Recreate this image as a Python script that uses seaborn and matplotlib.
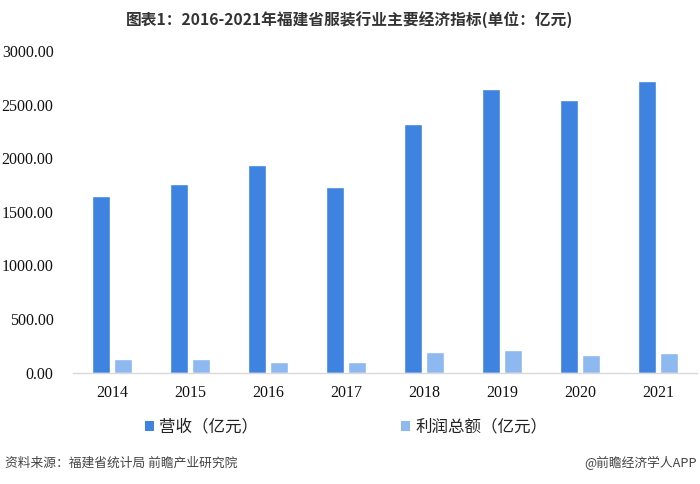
import matplotlib
matplotlib.use("Agg")
import matplotlib.pyplot as plt
import seaborn as sns
import pandas as pd
import numpy as np
from matplotlib.patches import Patch
from matplotlib.ticker import FixedLocator

years = ["2014", "2015", "2016", "2017", "2018", "2019", "2020", "2021"]
revenue = [1651, 1760, 1937, 1732, 2319, 2649, 2543, 2720]
profit = [125, 125, 100, 100, 190, 209, 162, 181]
series_names = ["营收（亿元）", "利润总额（亿元）"]
yticks = [0, 500, 1000, 1500, 2000, 2500, 3000]

title = "图表1：2016-2021年福建省服装行业主要经济指标(单位：亿元)"
source = "资料来源：福建省统计局 前瞻产业研究院"
credit = "@前瞻经济学人APP"

colors = ["#3F83E0", "#8DB8F0"]

sns.set_theme(style="white")
plt.rcParams["font.family"] = ["Noto Sans CJK SC", "DejaVu Sans"]

df = pd.DataFrame({
    "year": years * 2,
    "value": revenue + profit,
    "series": [series_names[0]] * len(years) + [series_names[1]] * len(years),
})

fig = plt.figure(figsize=(7.0, 4.84), dpi=100)
ax = fig.add_axes([73 / 700, 1 - 372.7 / 484, 624 / 700, (372.7 - 51) / 484])

sns.barplot(data=df, x="year", y="value", hue="series", order=years,
            hue_order=series_names, palette=colors, width=0.58, gap=0.22,
            saturation=1, ax=ax, legend=False, errorbar=None)

ax.set_xlim(-0.5, len(years) - 0.5)
ax.set_ylim(0, 3000)
ax.set_yticks(yticks)
ax.set_yticklabels([f"{v:.2f}" for v in yticks], family="Liberation Serif",
                   fontsize=11.5, color="#111111")
ax.set_xticks(range(len(years)))
ax.set_xticklabels(years, family="Liberation Serif", fontsize=11.5, color="#111111")
ax.xaxis.set_minor_locator(FixedLocator(np.arange(-0.5, len(years), 1.0)))
ax.tick_params(axis="x", which="major", length=0, pad=9)
ax.tick_params(axis="x", which="minor", length=4, color="#d0d0d0", width=1)
ax.tick_params(axis="y", length=0, pad=14)
ax.set_xlabel("")
ax.set_ylabel("")
for s in ["top", "right", "left"]:
    ax.spines[s].set_visible(False)
ax.spines["bottom"].set_color("#d9d9d9")
ax.spines["bottom"].set_linewidth(1)
ax.grid(False)

handles = [Patch(facecolor=c, edgecolor="none") for c in colors]
fig.legend(handles, series_names, loc="center", bbox_to_anchor=(346 / 700, 1 - 427 / 484),
           ncol=2, frameon=False, fontsize=11.9, handlelength=0.55, handleheight=0.55,
           handletextpad=0.3, columnspacing=8.7, labelcolor="#222222")

fig.text(0.5, 1 - 20 / 484, title, ha="center", va="center", fontsize=11.3,
         fontweight="bold", color="#333333")
fig.text(5 / 700, 1 - 463 / 484, source, ha="left", va="center", fontsize=9.2, color="#444444")
fig.text(697 / 700, 1 - 463 / 484, credit, ha="right", va="center", fontsize=9.2, color="#444444")

fig.savefig("out.png", dpi=100)
